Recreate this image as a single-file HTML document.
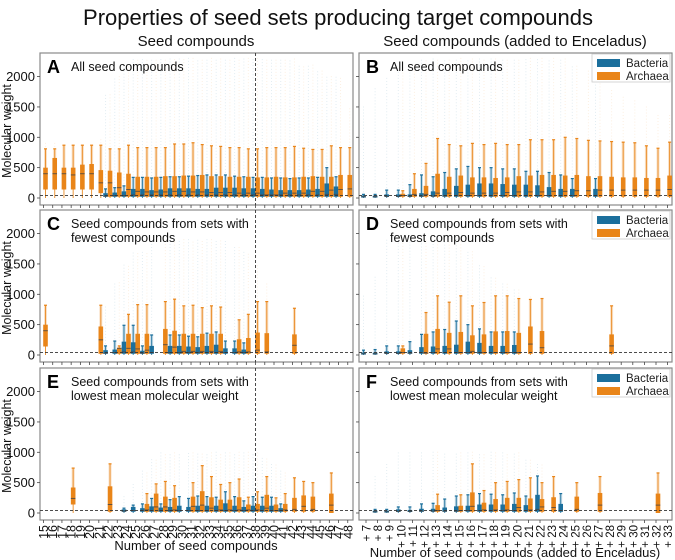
<!DOCTYPE html>
<html><head><meta charset="utf-8">
<style>
body{margin:0;background:#fff;}
svg{display:block;font-family:"Liberation Sans",Arial,sans-serif;}
</style></head>
<body>
<svg id="chart" width="675" height="560" viewBox="0 0 675 560" xmlns="http://www.w3.org/2000/svg">
<text x="338" y="25" font-size="22" text-anchor="middle" fill="#111">Properties of seed sets producing target compounds</text>
<text x="196" y="46" font-size="15" text-anchor="middle" fill="#111">Seed compounds</text>
<text x="515" y="46" font-size="15" text-anchor="middle" fill="#111">Seed compounds (added to Enceladus)</text>
<g id="plots"></g>
</svg>
<script>
const leftCats = ["15","16","17","18","19","20","21","22","23","24","25","26","27","28","29","30","31","32","33","34","35","36","37","38","39","40","41","42","43","44","45","46","47","48"];
const rightCats = ["+ 7","+ 8","+ 9","+ 10","+ 11","+ 12","+ 13","+ 14","+ 15","+ 16","+ 17","+ 18","+ 19","+ 20","+ 21","+ 22","+ 23","+ 24","+ 25","+ 26","+ 27","+ 28","+ 29","+ 30","+ 31","+ 32","+ 33"];
const yTicks = [0,500,1000,1500,2000];
const n = null;
// Panel A
const aBacQ3 = [n,n,n,n,n,n,n,80,90,110,150,150,130,140,160,160,160,150,150,170,170,170,160,160,150,140,130,130,130,140,150,240,190,n];
const aBacMed = [n,n,n,n,n,n,n,30,40,40,50,50,50,50,50,50,50,50,50,50,50,50,50,50,50,50,50,50,50,50,50,60,60,n];
const aBacWh = [n,n,n,n,n,n,n,150,170,200,340,340,330,340,350,350,360,370,380,380,380,360,350,340,340,330,330,320,330,330,340,500,350,n];
const aArcQ1 = [140,140,140,140,140,140,80,20,20,20,20,20,20,20,20,20,20,20,20,20,20,20,20,20,20,20,20,20,20,20,20,20,20,20];
const aArcQ3 = [500,660,500,500,550,560,460,450,420,400,350,350,350,360,360,370,370,380,360,360,350,350,350,340,340,350,340,340,350,360,350,350,380,380];
const aArcMed = [400,400,400,380,400,400,250,250,170,140,110,100,100,100,110,110,100,100,90,90,90,80,80,80,50,50,80,80,80,110,110,130,140,150];
const aArcWh = [810,810,870,870,870,870,870,810,810,870,830,830,830,830,890,890,910,880,860,850,830,830,810,810,830,830,830,850,820,800,800,860,830,830];
const aOutTop = [900,900,900,900,900,900,1000,1700,2000,2200,2300,2300,2300,2300,2300,2300,2300,2300,2300,2300,2300,2300,2300,2300,2300,2300,2300,2300,2200,2200,2100,2000,2000,1500];
// Panel B
const bBacQ3 = [40,40,60,60,60,80,110,150,200,220,240,240,230,220,220,210,180,150,150,n,150,n,n,n,n,n,n];
const bBacMed = [20,20,25,25,25,30,30,35,40,40,40,40,40,40,40,40,40,40,40,n,40,n,n,n,n,n,n];
const bBacWh = [60,60,130,130,220,380,350,420,480,520,500,500,480,480,440,440,420,380,320,n,320,n,n,n,n,n,n];
const bArcQ1 = [n,n,n,20,20,20,20,20,20,20,20,20,20,20,20,20,20,20,20,20,20,20,20,20,20,20,20];
const bArcQ3 = [n,n,n,70,150,200,400,350,370,340,340,330,340,360,370,380,380,370,380,360,360,350,340,340,330,330,370];
const bArcMed = [n,n,n,40,60,60,80,80,90,80,80,80,90,100,100,100,110,110,120,120,130,130,130,130,130,130,140];
const bArcWh = [n,n,n,120,400,570,980,880,860,900,880,900,880,880,960,960,960,1000,980,950,940,930,920,910,860,820,920];
const bOutTop = [1500,1800,2000,2100,2200,2300,2300,2300,2300,2300,2300,2300,2300,2300,2300,2300,2300,2300,2200,2100,1900,1800,1700,1600,1500,1400,1400];
// Panel C
const cBacQ3 = [n,n,n,n,n,n,n,80,90,220,210,70,150,n,150,150,140,130,150,170,110,110,90,n,n,n,n,n,n,n,n,n,n,n];
const cBacMed = [n,n,n,n,n,n,n,30,40,50,50,30,40,n,40,40,40,40,40,40,40,40,40,n,n,n,n,n,n,n,n,n,n,n];
const cBacWh = [n,n,n,n,n,n,n,150,230,490,490,150,330,n,330,330,310,300,360,380,230,230,200,n,n,n,n,n,n,n,n,n,n,n];
const cArcQ1 = [140,n,n,n,n,n,20,n,20,20,20,20,n,20,20,20,20,20,20,20,n,20,20,20,20,n,n,20,n,n,n,n,n,n];
const cArcQ3 = [500,n,n,n,n,n,470,n,120,350,350,350,n,430,400,350,350,350,350,350,n,260,280,370,360,n,n,340,n,n,n,n,n,n];
const cArcMed = [400,n,n,n,n,n,250,n,110,110,100,80,n,170,130,60,60,60,60,60,n,50,50,80,50,n,n,160,n,n,n,n,n,n];
const cArcWh = [820,n,n,n,n,n,820,n,150,670,830,830,n,880,920,810,820,780,810,790,n,580,670,880,880,n,n,770,n,n,n,n,n,n];
const cOutTop = [n,n,n,n,n,n,n,800,1200,1500,1700,1700,1900,1900,1900,1900,1900,1900,1900,1900,1900,1800,1700,1500,1200,n,n,n,n,n,n,n,n,n];
// Panel D
const dBacQ3 = [40,40,60,60,80,130,140,150,170,220,200,150,150,165,n,n,n,n,n,n,n,n,n,n,n,n,n];
const dBacMed = [20,20,25,25,30,40,40,40,40,40,40,40,40,40,n,n,n,n,n,n,n,n,n,n,n,n,n];
const dBacWh = [80,90,150,150,220,340,380,420,560,500,430,380,380,380,n,n,n,n,n,n,n,n,n,n,n,n,n];
const dArcQ1 = [n,n,n,20,n,20,20,20,20,20,20,20,20,20,20,20,n,n,n,n,n,20,n,n,n,n,n];
const dArcQ3 = [n,n,n,110,n,350,430,365,380,325,340,390,395,365,470,395,n,n,n,n,n,340,n,n,n,n,n];
const dArcMed = [n,n,n,40,n,30,100,100,40,60,40,40,40,40,180,120,n,n,n,n,n,150,n,n,n,n,n];
const dArcWh = [n,n,n,150,n,700,975,870,975,810,865,975,975,930,915,930,n,n,n,n,n,810,n,n,n,n,n];
const dOutTop = [1000,1300,1900,1900,1900,1900,1900,1900,1900,1700,1500,1300,1200,1100,1000,n,n,n,n,n,n,n,n,n,n,n,n];
// Panel E
const eBacQ3 = [n,n,n,n,n,n,n,n,n,60,100,80,110,90,100,120,100,120,120,120,160,120,100,120,120,120,80,n,n,n,n,n,n,n];
const eBacMed = [n,n,n,n,n,n,n,n,n,30,40,40,40,40,40,40,40,40,40,40,40,40,40,40,40,40,40,n,n,n,n,n,n,n];
const eBacWh = [n,n,n,n,n,n,n,n,n,80,130,150,240,150,220,270,240,280,270,260,350,270,200,270,260,260,150,n,n,n,n,n,n,n];
const eArcQ1 = [n,n,n,140,n,n,n,20,n,n,n,20,20,20,20,n,20,20,20,20,20,20,20,20,20,20,20,20,20,20,n,0,n,n];
const eArcQ3 = [n,n,n,420,n,n,n,440,n,n,n,150,320,270,250,n,270,360,260,220,220,260,140,150,300,140,150,250,290,270,n,320,n,n];
const eArcMed = [n,n,n,240,n,n,n,140,n,n,n,50,100,100,50,n,110,130,80,50,50,50,50,50,80,40,50,60,110,60,n,130,n,n];
const eArcWh = [n,n,n,740,n,n,n,810,n,n,n,320,480,520,450,n,500,780,600,470,500,560,260,350,600,250,320,580,520,500,n,660,n,n];
const eOutTop = [n,n,n,n,n,n,n,n,n,300,500,700,900,1000,1000,1000,1000,1000,1000,1000,1000,1000,1000,1000,900,800,700,n,n,n,n,n,n,n];
// Panel F
const fBacQ3 = [n,40,40,60,50,70,70,90,110,120,140,140,140,150,130,300,n,150,n,n,n,n,n,n,n,n,n];
const fBacMed = [n,20,20,25,25,30,30,30,30,40,40,40,40,40,40,60,n,40,n,n,n,n,n,n,n,n,n];
const fBacWh = [n,60,60,100,100,150,160,230,280,300,320,310,300,330,280,610,n,320,n,n,n,n,n,n,n,n,n];
const fArcQ1 = [n,n,n,n,n,n,20,n,20,20,20,20,20,20,20,20,20,n,20,n,20,n,n,n,n,0,n];
const fArcQ3 = [n,n,n,n,n,n,130,n,120,340,170,230,250,250,240,230,260,n,270,n,330,n,n,n,n,320,n];
const fArcMed = [n,n,n,n,n,n,40,n,40,110,50,50,50,90,50,100,90,n,60,n,130,n,n,n,n,130,n];
const fArcWh = [n,n,n,n,n,n,310,n,300,810,370,500,520,550,580,500,600,n,500,n,600,n,n,n,n,660,n];
const fOutTop = [n,600,800,1000,1000,1000,1000,1000,1000,1000,1000,1000,1000,1000,900,800,700,n,n,n,n,n,n,n,n,n,n];

const BLUE = "#1b6f9c", ORANGE = "#e98519";
const svg = document.getElementById("plots");
const NS = "http://www.w3.org/2000/svg";
function el(tag, attrs, parent){ const e=document.createElementNS(NS,tag); for(const k in attrs) e.setAttribute(k,attrs[k]); (parent||svg).appendChild(e); return e; }

const panels = [
 {id:"a",letter:"A",sub:["All seed compounds"],left:true,top:53,cats:leftCats,bq3:aBacQ3,bmed:aBacMed,bwh:aBacWh,aq1:aArcQ1,aq3:aArcQ3,amed:aArcMed,awh:aArcWh,out:aOutTop,bottom:false},
 {id:"b",letter:"B",sub:["All seed compounds"],left:false,top:53,cats:rightCats,bq3:bBacQ3,bmed:bBacMed,bwh:bBacWh,aq1:bArcQ1,aq3:bArcQ3,amed:bArcMed,awh:bArcWh,out:bOutTop,bottom:false},
 {id:"c",letter:"C",sub:["Seed compounds from sets with","fewest compounds"],left:true,top:210,cats:leftCats,bq3:cBacQ3,bmed:cBacMed,bwh:cBacWh,aq1:cArcQ1,aq3:cArcQ3,amed:cArcMed,awh:cArcWh,out:cOutTop,bottom:false},
 {id:"d",letter:"D",sub:["Seed compounds from sets with","fewest compounds"],left:false,top:210,cats:rightCats,bq3:dBacQ3,bmed:dBacMed,bwh:dBacWh,aq1:dArcQ1,aq3:dArcQ3,amed:dArcMed,awh:dArcWh,out:dOutTop,bottom:false},
 {id:"e",letter:"E",sub:["Seed compounds from sets with","lowest mean molecular weight"],left:true,top:368,cats:leftCats,bq3:eBacQ3,bmed:eBacMed,bwh:eBacWh,aq1:eArcQ1,aq3:eArcQ3,amed:eArcMed,awh:eArcWh,out:eOutTop,bottom:true},
 {id:"f",letter:"F",sub:["Seed compounds from sets with","lowest mean molecular weight"],left:false,top:368,cats:rightCats,bq3:fBacQ3,bmed:fBacMed,bwh:fBacWh,aq1:fArcQ1,aq3:fArcQ3,amed:fArcMed,awh:fArcWh,out:fOutTop,bottom:true}
];

panels.forEach(p=>{
  const x0 = p.left?40:359, x1 = p.left?353:672, top=p.top, bot=top+152;
  const tick0 = p.left?43.5:366, step = p.left?9.22:11.6;
  const xs = i => tick0 + i*step;
  const ys = v => top + 145 - v*0.0607;
  const g = el("g",{});
  
  
  const frame = el("rect",{x:x0,y:top,width:x1-x0,height:bot-top,fill:"#fff",stroke:"#8a8a8a","stroke-width":1.2},g);
  
  
  yTicks.forEach(t=>{
    const tk = el("line",{x1:x0-3,x2:x0,y1:ys(t),y2:ys(t),stroke:"#444","stroke-width":0.8},g);
    
    
    if(p.left){
      const tl = el("text",{x:x0-5,y:ys(t)+4.5,"font-size":13,"text-anchor":"end",fill:"#111"},g);
      tl.textContent = t;
      
      
    }
  });
  if(p.left){
    const yl = el("text",{x:0,y:0,"font-size":12.5,"text-anchor":"middle",fill:"#111",transform:`translate(11,${top+78}) rotate(-90)`},g);
    yl.textContent = "Molecular weight";
    
    
  }
  p.cats.forEach((c,i)=>{
    const tk = el("line",{x1:xs(i),x2:xs(i),y1:bot,y2:bot+3,stroke:"#444","stroke-width":0.8},g);
    
    
    if(p.bottom){
      const tl = el("text",{x:0,y:0,"font-size":p.left?12.5:11.5,"text-anchor":"end",fill:"#111",transform:`translate(${xs(i)+4.5},${bot+5}) rotate(-90)`},g);
      tl.textContent = c;
      
      
    }
  });
  p.cats.forEach((c,i)=>{
    const topV = p.out[i];
    if(topV==null) return;
    [[p.bwh[i],BLUE,-2.5],[p.awh[i],ORANGE,2]].forEach(([w,col,off])=>{
      if(w==null) return;
      let d="";
      for(let v=w+40; v<=topV; v+=50){ d+=`M${xs(i)+off-0.5},${ys(v)}h1`; }
      if(!d) return;
      const op = el("path",{d:d,stroke:col,"stroke-width":1,opacity:0.12},g);
      
      
    });
  });
  function drawBox(i,q1,q3,med,wh,col,off,name){
    if(q3==null) return;
    const cx = xs(i)+off, w=4.6;
    const band = el("rect",{x:cx-1.5,y:ys(wh),width:3,height:Math.max(0,ys(q3)-ys(wh)),fill:col,opacity:0.25},g);
    
    
    const wl = el("line",{x1:cx,x2:cx,y1:ys(wh),y2:ys(0),stroke:col,"stroke-width":1,opacity:0.85},g);
    
    
    const cap = el("line",{x1:cx-1.5,x2:cx+1.5,y1:ys(wh),y2:ys(wh),stroke:col,"stroke-width":1.2},g);
    
    
    const lo = q1==null?20:q1;
    const r = el("rect",{x:cx-w/2,y:ys(q3),width:w,height:Math.max(2,ys(lo)-ys(q3)),fill:col},g);
    
    
    const m = el("line",{x1:cx-w/2,x2:cx+w/2,y1:ys(med),y2:ys(med),stroke:"#444","stroke-width":1,opacity:0.8},g);
    
    
  }
  p.cats.forEach((c,i)=>{
    drawBox(i,20,p.bq3[i],p.bmed[i],p.bwh[i],BLUE,-2.5,'bacteria');
    drawBox(i,p.aq1[i],p.aq3[i],p.amed[i],p.awh[i],ORANGE,2,'archaea');
  });
  const hl = el("line",{x1:x0,x2:x1,y1:ys(40),y2:ys(40),stroke:"#333","stroke-width":0.9,"stroke-dasharray":"3,2"},g);
  
  
  if(p.left){
    const vl = el("line",{x1:xs(23),x2:xs(23),y1:top,y2:bot,stroke:"#333","stroke-width":0.9,"stroke-dasharray":"3,2"},g);
    
    
  }
  const lt = el("text",{x:x0+7,y:top+20,"font-size":18,"font-weight":"bold",fill:"#000"},g);
  lt.textContent = p.letter;
  
  
  p.sub.forEach((s,k)=>{
    const st = el("text",{x:x0+31,y:top+18+k*14,"font-size":12.5,fill:"#111"},g);
    st.textContent = s;
    
    
  });
  if(!p.left){
    const lg = el("g",{},g);
    
    
    el("rect",{x:592,y:top+1,width:78,height:28,fill:"#fff",stroke:"#ccc","stroke-width":0.8},lg);
    [["Bacteria",BLUE],["Archaea",ORANGE]].forEach(([lab,col],k)=>{
      const e = el("g",{},lg);
      
      
      el("rect",{x:597,y:top+6+k*13,width:23,height:8,fill:col},e);
      const t = el("text",{x:626,y:top+14+k*13,"font-size":11.5,fill:"#222"},e);
      t.textContent = lab;
    });
  }
});
const xl = el("text",{x:196,y:550,"font-size":13,"text-anchor":"middle",fill:"#111"});
xl.textContent = "Number of seed compounds";


const xr = el("text",{x:515,y:557,"font-size":13,"text-anchor":"middle",fill:"#111"});
xr.textContent = "Number of seed compounds (added to Enceladus)";


</script>
</body></html>
